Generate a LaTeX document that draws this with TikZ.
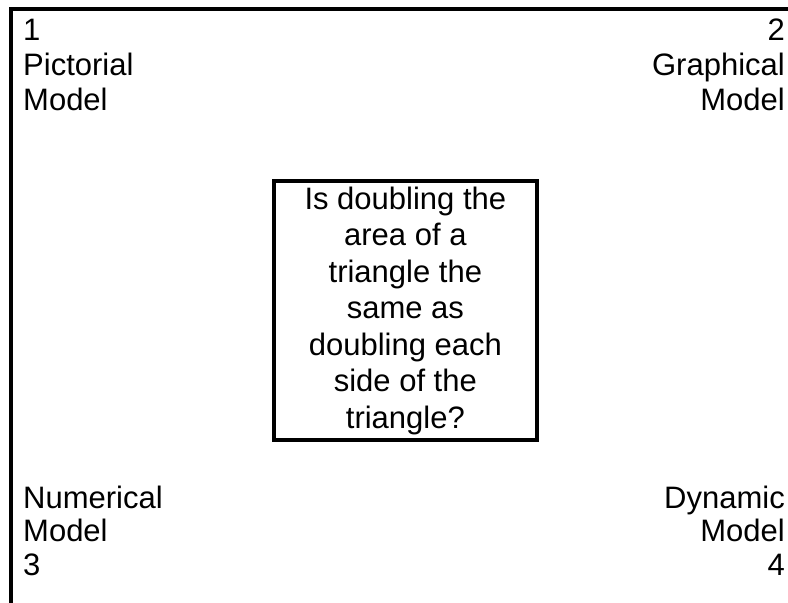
\documentclass[tikz,border=0pt]{standalone}
\usepackage{fontspec}
\setmainfont{Liberation Sans}
\begin{document}
\begin{tikzpicture}[x=1pt,y=1pt,
  lbl/.style={inner sep=0pt,font=\fontsize{31}{35}\selectfont},
  qbox/.style={inner sep=0pt,align=center,font=\fontsize{31}{36.5}\selectfont}]
\useasboundingbox (0,0) rectangle (788,-603);
\fill[white] (0,0) rectangle (788,-603);
% outer frame (cut at right and bottom)
\draw[line width=4pt] (11.3,-603) -- (11.3,-9.3) -- (788,-9.3);
% central box
\draw[line width=4pt] (273.7,-181.3) rectangle (537,-440.3);
% anchor=base refers to the last line's baseline
\node[qbox,anchor=base] (q) at (405.35,-428.3) {Is doubling the\\area of a\\triangle the\\same as\\doubling each\\side of the\\triangle?};
\node[lbl,anchor=base west,align=left] (tl) at (23,-110) {1\\Pictorial\\Model};
\node[lbl,anchor=base east,align=right] (tr) at (785,-110) {2\\Graphical\\Model};
\node[lbl,anchor=base west,align=left,font=\fontsize{31}{33.5}\selectfont] (bl) at (23,-575) {Numerical\\Model\\3};
\node[lbl,anchor=base east,align=right,font=\fontsize{31}{33.5}\selectfont] (br) at (785,-575) {Dynamic\\Model\\4};
\end{tikzpicture}
\end{document}
